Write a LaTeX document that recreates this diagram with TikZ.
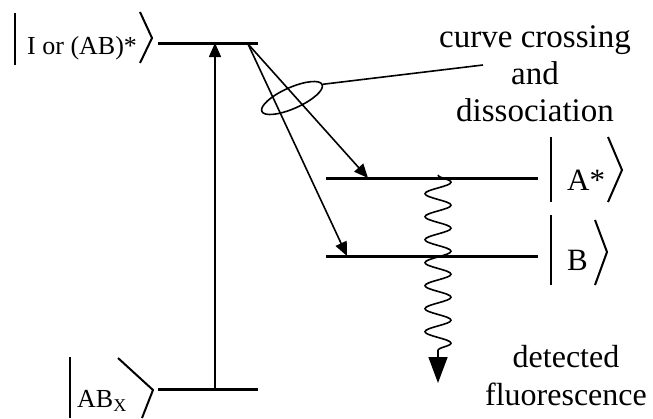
\documentclass[tikz,border=0pt]{standalone}
\usepackage{fontspec}
\setmainfont{Liberation Serif}
\usetikzlibrary{arrows.meta,positioning,calc,shapes.geometric,decorations.pathmorphing}
\tikzset{
 level/.style={line width=3pt},
 arrow/.style={-{Triangle[length=14pt,width=12pt]},line width=1.6pt},
 ketbar/.style={line width=2.4pt},
 ketangle/.style={line width=2pt,line join=miter},
 statetext/.style={inner sep=0pt,anchor=base west,font=\fontsize{26}{30}\selectfont},
 note/.style={inner sep=0pt,align=center,anchor=base,font=\fontsize{33}{37}\selectfont},
 glow/.style={line width=1.6pt,decorate,
   decoration={snake,amplitude=13pt,segment length=23pt,post length=30pt},
   -{Triangle[length=26pt,width=19pt]}}
}
\begin{document}
\begin{tikzpicture}[x=1pt,y=-1pt]
 \useasboundingbox (0,0) rectangle (653,418);
 % energy levels
 \coordinate (top-l) at (158,43);  \coordinate (top-r) at (258,43);
 \coordinate (gnd-l) at (158,389); \coordinate (gnd-r) at (258,389);
 \coordinate (ast-l) at (326,178); \coordinate (ast-r) at (538,178);
 \coordinate (bst-l) at (326,256); \coordinate (bst-r) at (538,256);
 \draw[level] (top-l) -- (top-r);
 \draw[level] (gnd-l) -- (gnd-r);
 \draw[level] (ast-l) -- (ast-r);
 \draw[level] (bst-l) -- (bst-r);
 % state labels
 \node[statetext] (ktop) at (27,54) {I or (AB)*};
 \node[statetext] (kgnd) at (77,407) {AB{\fontsize{18}{20}\selectfont\raisebox{-4pt}{X}}};
 \node[statetext,font=\fontsize{31}{34}\selectfont] (kast) at (567,190) {A*};
 \node[statetext,font=\fontsize{31}{34}\selectfont] (kbst) at (567,270) {B};
 \draw[ketbar] (15,13) -- (15,65);
 \draw[ketangle] (140,12) -- (152,38) -- (140,63);
 \draw[ketbar] (70,357) -- (70,418);
 \draw[ketangle] (118,358) -- (153,390) -- (142,418);
 \draw[ketbar] (551,137) -- (551,202);
 \draw[ketangle] (608,137) -- (622,170) -- (608,202);
 \draw[ketbar] (551,215) -- (551,285);
 \draw[ketangle] (595,220) -- (607,252) -- (595,285);
 % transitions
 \coordinate (exc-lo) at (215,389); \coordinate (exc-hi) at (215,43);
 \coordinate (top-x) at (248,44);
 \coordinate (ast-x) at (368,178); \coordinate (bst-x) at (347,256);
 \draw[arrow] (exc-lo) -- (exc-hi);
 \draw[arrow] (top-x) -- (ast-x);
 \draw[arrow] (top-x) -- (bst-x);
 % crossing marker
 \node[draw,ellipse,line width=1.6pt,rotate=24,minimum width=66pt,minimum height=21pt,inner sep=0pt] (ring) at (292,98) {};
 \node[note] (cross) at (535,121) {curve crossing\\and\\dissociation};
 \coordinate (cross-tag) at (483,65);
 \draw[line width=1.6pt] (ring.east) -- (cross-tag);
 % fluorescence
 \coordinate (fl-hi) at (438,175); \coordinate (fl-lo) at (438,383);
 \draw[glow] (fl-hi) -- (fl-lo);
 \node[note,font=\fontsize{32}{38}\selectfont] (fluo) at (566,405) {detected\\fluorescence};
\end{tikzpicture}
\end{document}
